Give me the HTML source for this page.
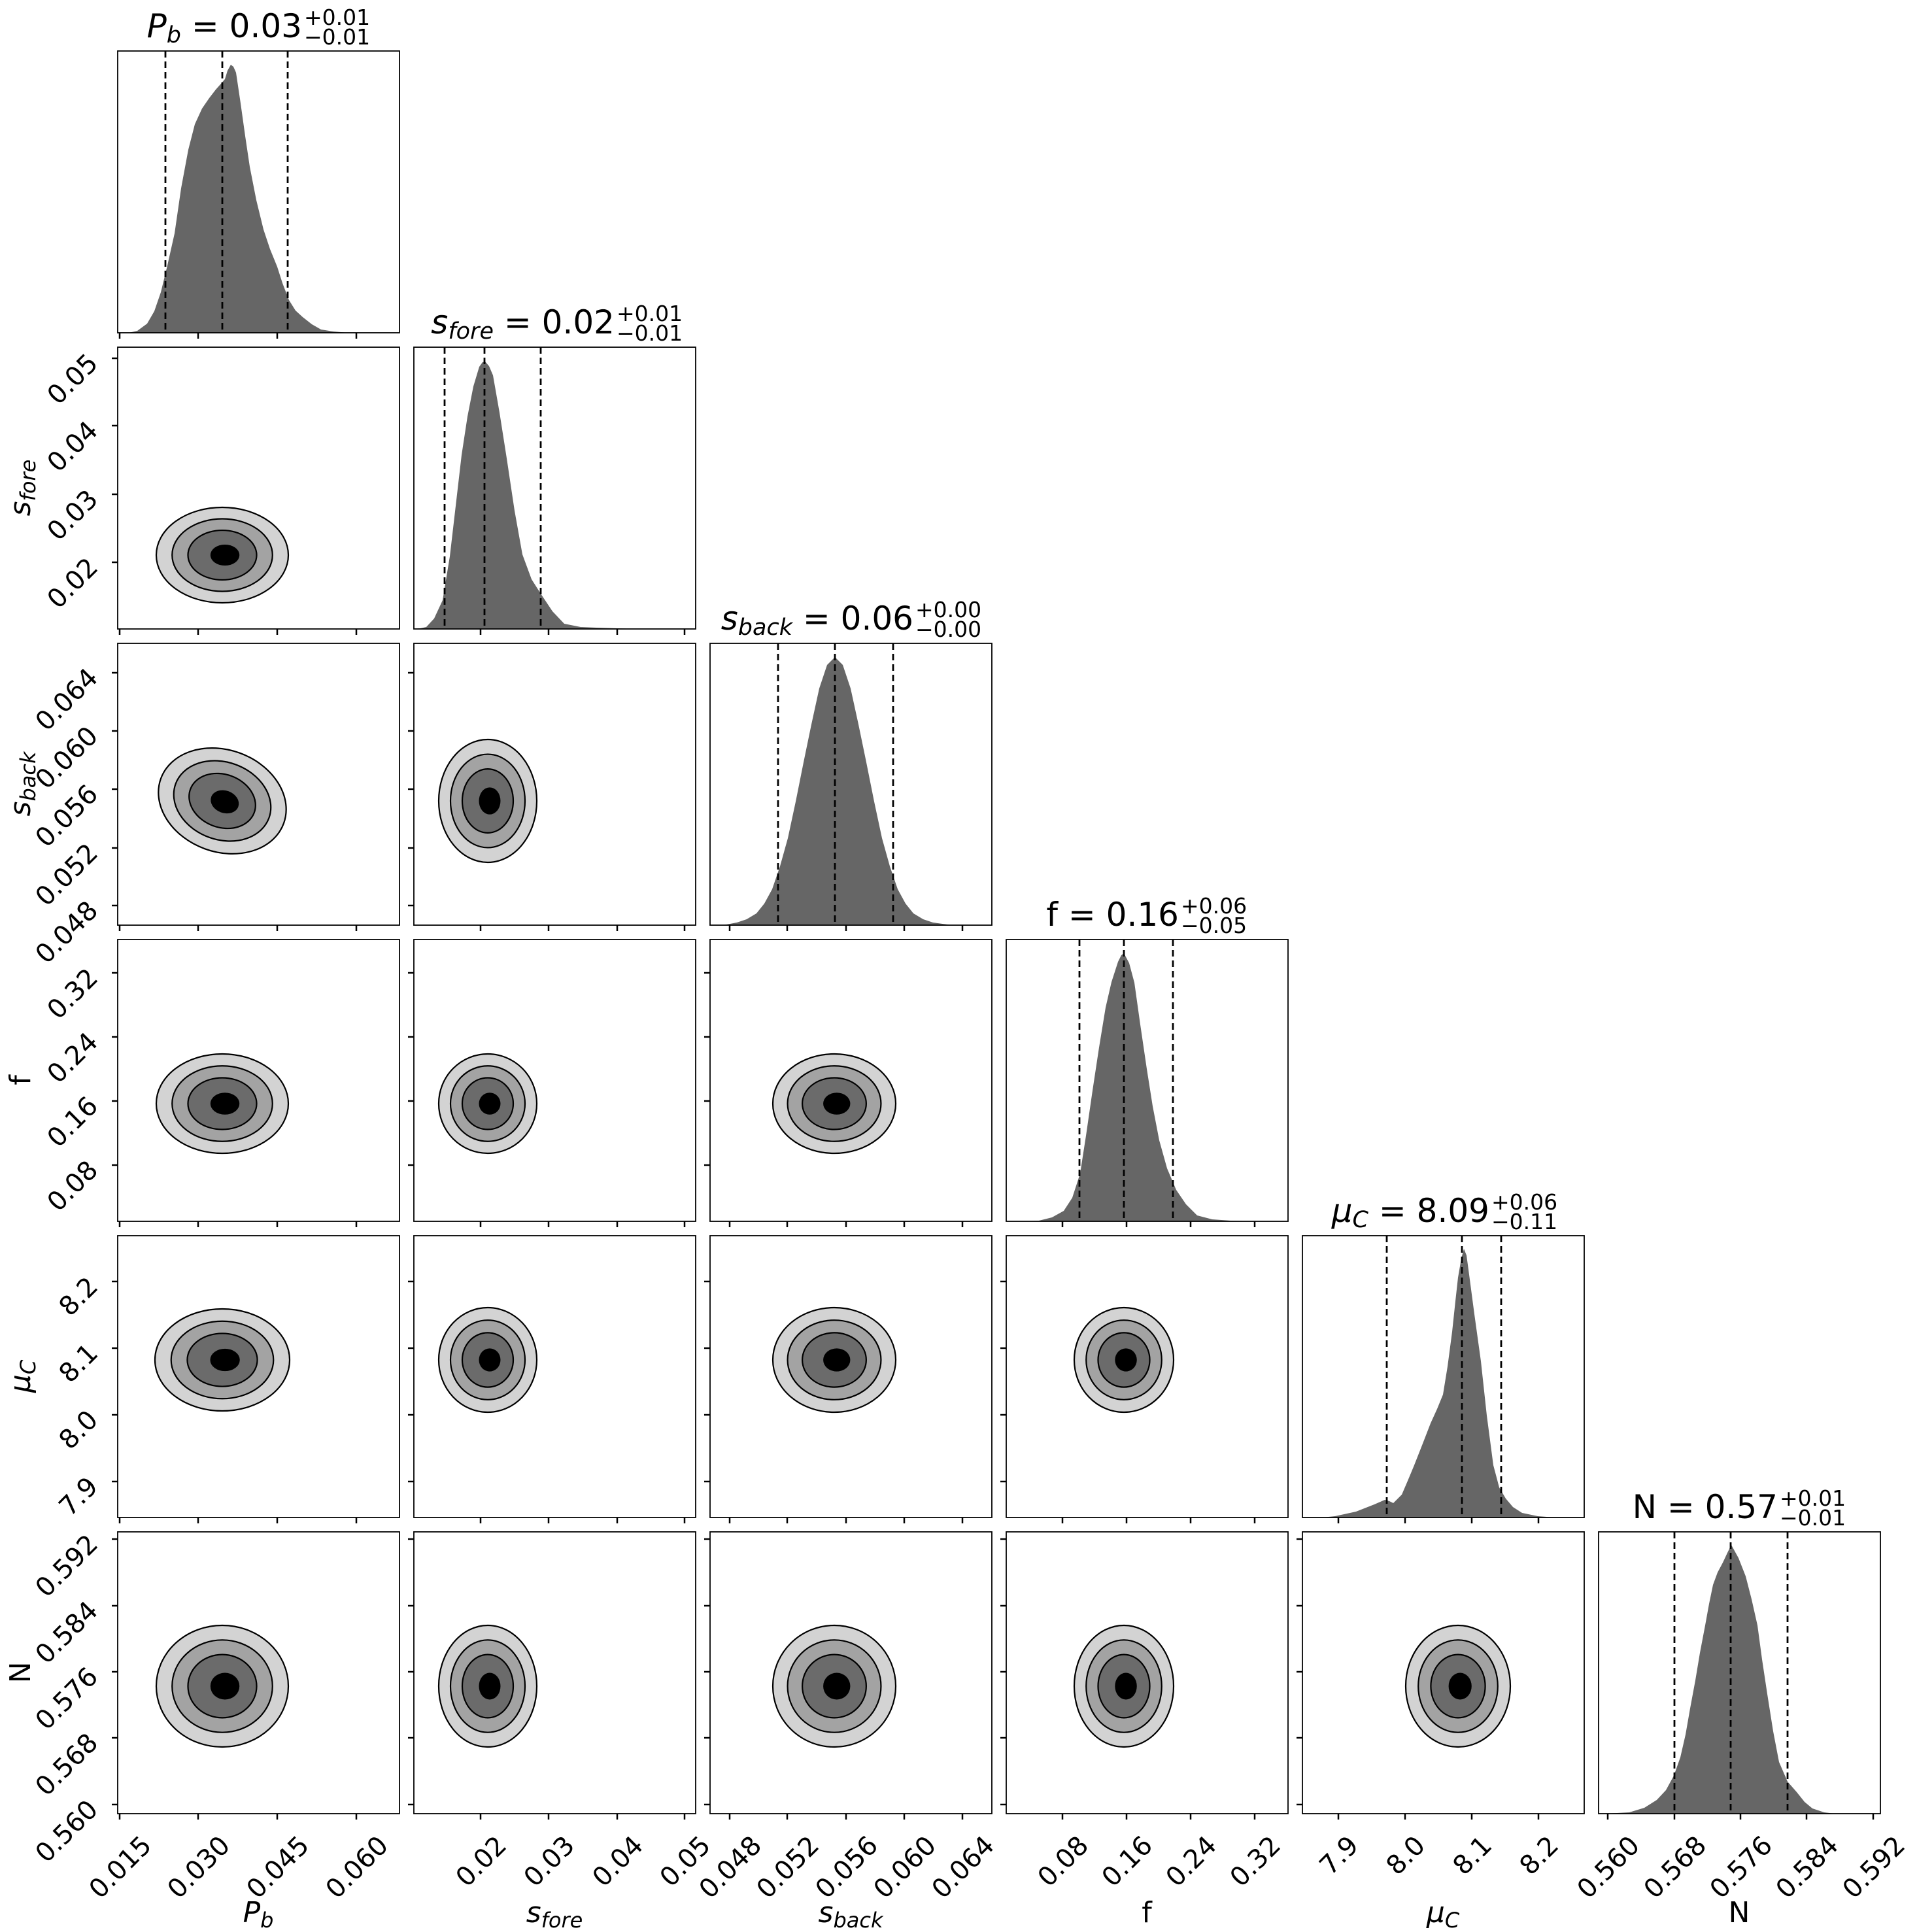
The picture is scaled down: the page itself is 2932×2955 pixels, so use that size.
<!DOCTYPE html>
<html><head><meta charset="utf-8"><style>
html,body{margin:0;padding:0;background:#fff}
svg{display:block}
text{font-family:"DejaVu Sans","Liberation Sans",sans-serif;fill:#000}
</style></head><body>
<svg xmlns="http://www.w3.org/2000/svg" xmlns:xlink="http://www.w3.org/1999/xlink" width="2932" height="2955" viewBox="0 0 2932 2955">
<defs>
<g id="ct">
<circle r="100" fill="#d3d3d3" stroke="#000" stroke-width="2.2" vector-effect="non-scaling-stroke"/>
<circle r="76" fill="#a3a3a3" stroke="#000" stroke-width="2.2" vector-effect="non-scaling-stroke"/>
<circle r="52" fill="#6b6b6b" stroke="#000" stroke-width="2.2" vector-effect="non-scaling-stroke"/>
<circle cx="4" r="22" fill="#000"/>
</g>
<rect id="pb" width="431" height="431" fill="none" stroke="#000" stroke-width="1.8"/>
<g id="xt0" stroke="#000" stroke-width="2.5"><path d="M183 509v9M303 509v9M424 509v9M545 509v9"/></g>
<g id="xt1" stroke="#000" stroke-width="2.5"><path d="M735 962v9M839 962v9M944 962v9M1047 962v9"/></g>
<g id="xt2" stroke="#000" stroke-width="2.5"><path d="M1116 1415v9M1204 1415v9M1294 1415v9M1383 1415v9M1472 1415v9"/></g>
<g id="xt3" stroke="#000" stroke-width="2.5"><path d="M1625 1868v9M1723 1868v9M1821 1868v9M1919 1868v9"/></g>
<g id="xt4" stroke="#000" stroke-width="2.5"><path d="M2047 2321v9M2149 2321v9M2251 2321v9M2353 2321v9"/></g>
<g id="yt1" stroke="#000" stroke-width="2.5"><path d="M171 860h9M171 756h9M171 651h9M171 548h9"/></g>
<g id="yt2" stroke="#000" stroke-width="2.5"><path d="M171 1385h9M171 1297h9M171 1207h9M171 1118h9M171 1029h9"/></g>
<g id="yt3" stroke="#000" stroke-width="2.5"><path d="M171 1782h9M171 1684h9M171 1586h9M171 1488h9"/></g>
<g id="yt4" stroke="#000" stroke-width="2.5"><path d="M171 2266h9M171 2164h9M171 2062h9M171 1960h9"/></g>
<g id="yt5" stroke="#000" stroke-width="2.5"><path d="M171 2760h9M171 2658h9M171 2557h9M171 2456h9M171 2354h9"/></g>
</defs>

<!-- histograms -->
<g transform="translate(180,78)">
<polygon fill="#666" points="0,431 17,431 30,428 45,417 56,398 66,369 76,328 87,279 97,210 108,151 118,112 129,88 140,72 150,59 158,50 164,43 168,30 173,21 177,24 181,33 188,80 195,130 202,177 212,228 223,273 233,303 244,330 252,355 262,381 272,397 283,407 297,418 311,426 330,429 353,431"/>
<g stroke="#000" stroke-width="2.8" stroke-dasharray="10 6"><path d="M73 0V431M160 0V431M260 0V431"/></g>
<use xlink:href="#pb"/></g>
<g transform="translate(633,531)">
<polygon fill="#666" points="0,431 10,430 19,428 31,415 44,387 55,320 65,234 73,165 82,106 91,60 100,30 105,23 109,22 115,29 121,43 131,100 142,170 154,250 166,317 180,355 194,377 212,404 230,423 255,428 279,429 342,431"/>
<g stroke="#000" stroke-width="2.8" stroke-dasharray="10 6"><path d="M47 0V431M108 0V431M194 0V431"/></g>
<use xlink:href="#pb"/></g>
<g transform="translate(1086,984)">
<polygon fill="#666" points="20,431 41,427 56,422 71,413 83,398 95,376 107,341 119,298 131,242 143,182 155,124 167,69 179,33 191,21 203,33 215,69 227,124 239,182 251,242 263,298 275,341 287,376 299,398 311,413 326,422 341,427 370,431"/>
<g stroke="#000" stroke-width="2.8" stroke-dasharray="10 6"><path d="M104 0V431M191 0V431M280 0V431"/></g>
<use xlink:href="#pb"/></g>
<g transform="translate(1539,1437)">
<polygon fill="#666" points="20,431 50,430 70,425 88,415 101,395 113,358 122,300 132,231 142,165 152,104 161,65 171,34 176,24 180,21 188,36 196,66 205,130 215,198 224,255 234,307 246,350 260,383 275,405 292,422 315,428 343,430 380,431"/>
<g stroke="#000" stroke-width="2.8" stroke-dasharray="10 6"><path d="M112 0V431M180 0V431M255 0V431"/></g>
<use xlink:href="#pb"/></g>
<g transform="translate(1992,1890)">
<polygon fill="#666" points="30,431 50,429 82,422 110,411 126,404 133,406 139,409 152,396 161,375 171,351 184,318 196,287 206,265 215,243 222,200 229,147 234,100 238,64 243,35 247,20 251,30 254,52 263,120 273,192 282,275 292,351 301,385 311,402 322,415 336,424 360,429 387,431"/>
<g stroke="#000" stroke-width="2.8" stroke-dasharray="10 6"><path d="M129 0V431M244 0V431M304 0V431"/></g>
<use xlink:href="#pb"/></g>
<g transform="translate(2445,2343)">
<polygon fill="#666" points="10,431 47,429 70,422 89,410 103,395 115,373 125,345 133,310 140,270 148,227 155,185 163,143 169,110 175,81 182,62 190,47 197,32 203,20 214,40 225,68 234,103 243,143 250,195 258,248 267,305 276,352 289,382 303,398 315,413 327,423 345,429 362,431 420,431"/>
<g stroke="#000" stroke-width="2.8" stroke-dasharray="10 6"><path d="M116 0V431M202 0V431M289 0V431"/></g>
<use xlink:href="#pb"/></g>

<!-- contours -->
<use xlink:href="#ct" transform="translate(340,849) scale(1.01,0.73)"/>
<use xlink:href="#ct" transform="translate(340,1225) rotate(20) scale(1.0,0.78)"/>
<use xlink:href="#ct" transform="translate(746,1225) scale(0.75,0.94)"/>
<use xlink:href="#ct" transform="translate(340,1688) scale(1.01,0.76)"/>
<use xlink:href="#ct" transform="translate(746,1688) scale(0.75,0.76)"/>
<use xlink:href="#ct" transform="translate(1276,1688) scale(0.94,0.76)"/>
<use xlink:href="#ct" transform="translate(340,2080) scale(1.03,0.78)"/>
<use xlink:href="#ct" transform="translate(746,2080) scale(0.75,0.80)"/>
<use xlink:href="#ct" transform="translate(1276,2080) scale(0.94,0.80)"/>
<use xlink:href="#ct" transform="translate(1719,2080) scale(0.76,0.80)"/>
<use xlink:href="#ct" transform="translate(340,2579) scale(1.01,0.93)"/>
<use xlink:href="#ct" transform="translate(746,2579) scale(0.75,0.93)"/>
<use xlink:href="#ct" transform="translate(1276,2579) scale(0.94,0.93)"/>
<use xlink:href="#ct" transform="translate(1719,2579) scale(0.76,0.93)"/>
<use xlink:href="#ct" transform="translate(2230,2579) scale(0.80,0.93)"/>

<!-- contour panel frames -->
<use xlink:href="#pb" x="180" y="531"/>
<use xlink:href="#pb" x="180" y="984"/><use xlink:href="#pb" x="633" y="984"/>
<use xlink:href="#pb" x="180" y="1437"/><use xlink:href="#pb" x="633" y="1437"/><use xlink:href="#pb" x="1086" y="1437"/>
<use xlink:href="#pb" x="180" y="1890"/><use xlink:href="#pb" x="633" y="1890"/><use xlink:href="#pb" x="1086" y="1890"/><use xlink:href="#pb" x="1539" y="1890"/>
<use xlink:href="#pb" x="180" y="2343"/><use xlink:href="#pb" x="633" y="2343"/><use xlink:href="#pb" x="1086" y="2343"/><use xlink:href="#pb" x="1539" y="2343"/><use xlink:href="#pb" x="1992" y="2343"/>

<!-- x ticks -->
<use xlink:href="#xt0"/><use xlink:href="#xt0" y="453"/><use xlink:href="#xt0" y="906"/><use xlink:href="#xt0" y="1359"/><use xlink:href="#xt0" y="1812"/><use xlink:href="#xt0" y="2265"/>
<use xlink:href="#xt1"/><use xlink:href="#xt1" y="453"/><use xlink:href="#xt1" y="906"/><use xlink:href="#xt1" y="1359"/><use xlink:href="#xt1" y="1812"/>
<use xlink:href="#xt2"/><use xlink:href="#xt2" y="453"/><use xlink:href="#xt2" y="906"/><use xlink:href="#xt2" y="1359"/>
<use xlink:href="#xt3"/><use xlink:href="#xt3" y="453"/><use xlink:href="#xt3" y="906"/>
<use xlink:href="#xt4"/><use xlink:href="#xt4" y="453"/>
<g stroke="#000" stroke-width="2.5"><path d="M2459 2774v9M2561 2774v9M2662 2774v9M2763 2774v9M2865 2774v9"/></g>
<!-- y ticks -->
<use xlink:href="#yt1"/>
<use xlink:href="#yt2"/><use xlink:href="#yt2" x="453"/>
<use xlink:href="#yt3"/><use xlink:href="#yt3" x="453"/><use xlink:href="#yt3" x="906"/>
<use xlink:href="#yt4"/><use xlink:href="#yt4" x="453"/><use xlink:href="#yt4" x="906"/><use xlink:href="#yt4" x="1359"/>
<use xlink:href="#yt5"/><use xlink:href="#yt5" x="453"/><use xlink:href="#yt5" x="906"/><use xlink:href="#yt5" x="1359"/><use xlink:href="#yt5" x="1812"/>

<!-- bottom tick labels -->
<g font-size="40" text-anchor="end">
<text transform="translate(234,2825) rotate(-45)">0.015</text>
<text transform="translate(354,2825) rotate(-45)">0.030</text>
<text transform="translate(475,2825) rotate(-45)">0.045</text>
<text transform="translate(596,2825) rotate(-45)">0.060</text>
<text transform="translate(777,2825) rotate(-45)">0.02</text>
<text transform="translate(881,2825) rotate(-45)">0.03</text>
<text transform="translate(986,2825) rotate(-45)">0.04</text>
<text transform="translate(1089,2825) rotate(-45)">0.05</text>
<text transform="translate(1167,2825) rotate(-45)">0.048</text>
<text transform="translate(1255,2825) rotate(-45)">0.052</text>
<text transform="translate(1345,2825) rotate(-45)">0.056</text>
<text transform="translate(1434,2825) rotate(-45)">0.060</text>
<text transform="translate(1523,2825) rotate(-45)">0.064</text>
<text transform="translate(1667,2825) rotate(-45)">0.08</text>
<text transform="translate(1765,2825) rotate(-45)">0.16</text>
<text transform="translate(1863,2825) rotate(-45)">0.24</text>
<text transform="translate(1961,2825) rotate(-45)">0.32</text>
<text transform="translate(2080,2825) rotate(-45)">7.9</text>
<text transform="translate(2182,2825) rotate(-45)">8.0</text>
<text transform="translate(2284,2825) rotate(-45)">8.1</text>
<text transform="translate(2386,2825) rotate(-45)">8.2</text>
<text transform="translate(2510,2825) rotate(-45)">0.560</text>
<text transform="translate(2612,2825) rotate(-45)">0.568</text>
<text transform="translate(2713,2825) rotate(-45)">0.576</text>
<text transform="translate(2814,2825) rotate(-45)">0.584</text>
<text transform="translate(2916,2825) rotate(-45)">0.592</text>
<!-- left tick labels -->
<text transform="translate(152,870) rotate(-45)">0.02</text>
<text transform="translate(152,766) rotate(-45)">0.03</text>
<text transform="translate(152,661) rotate(-45)">0.04</text>
<text transform="translate(152,558) rotate(-45)">0.05</text>
<text transform="translate(152,1395) rotate(-45)">0.048</text>
<text transform="translate(152,1307) rotate(-45)">0.052</text>
<text transform="translate(152,1217) rotate(-45)">0.056</text>
<text transform="translate(152,1128) rotate(-45)">0.060</text>
<text transform="translate(152,1039) rotate(-45)">0.064</text>
<text transform="translate(152,1792) rotate(-45)">0.08</text>
<text transform="translate(152,1694) rotate(-45)">0.16</text>
<text transform="translate(152,1596) rotate(-45)">0.24</text>
<text transform="translate(152,1498) rotate(-45)">0.32</text>
<text transform="translate(152,2276) rotate(-45)">7.9</text>
<text transform="translate(152,2174) rotate(-45)">8.0</text>
<text transform="translate(152,2072) rotate(-45)">8.1</text>
<text transform="translate(152,1970) rotate(-45)">8.2</text>
<text transform="translate(152,2770) rotate(-45)">0.560</text>
<text transform="translate(152,2668) rotate(-45)">0.568</text>
<text transform="translate(152,2567) rotate(-45)">0.576</text>
<text transform="translate(152,2466) rotate(-45)">0.584</text>
<text transform="translate(152,2364) rotate(-45)">0.592</text>
</g>

<!-- axis labels bottom -->
<g font-size="44" text-anchor="middle">
<text x="395" y="2940"><tspan font-style="italic">P</tspan><tspan font-style="italic" font-size="32" dy="8">b</tspan></text>
<text x="848" y="2940"><tspan font-style="italic">s</tspan><tspan font-style="italic" font-size="32" dy="8">fore</tspan></text>
<text x="1301" y="2940"><tspan font-style="italic">s</tspan><tspan font-style="italic" font-size="32" dy="8">back</tspan></text>
<text x="1754" y="2940">f</text>
<text x="2207" y="2940"><tspan font-style="italic">μ</tspan><tspan font-style="italic" font-size="32" dy="8">C</tspan></text>
<text x="2660" y="2940">N</text>
</g>
<!-- axis labels left -->
<g font-size="44" text-anchor="middle">
<text transform="translate(46,746) rotate(-90)"><tspan font-style="italic">s</tspan><tspan font-style="italic" font-size="32" dy="8">fore</tspan></text>
<text transform="translate(46,1199) rotate(-90)"><tspan font-style="italic">s</tspan><tspan font-style="italic" font-size="32" dy="8">back</tspan></text>
<text transform="translate(46,1652) rotate(-90)">f</text>
<text transform="translate(46,2105) rotate(-90)"><tspan font-style="italic">μ</tspan><tspan font-style="italic" font-size="32" dy="8">C</tspan></text>
<text transform="translate(46,2558) rotate(-90)">N</text>
</g>

<!-- titles -->
<g font-size="50">
<text x="462" y="57" text-anchor="end"><tspan font-style="italic">P</tspan><tspan font-style="italic" font-size="35" dy="8">b</tspan><tspan dy="-8"> = 0.03</tspan></text>
<text x="465" y="38" font-size="33">+0.01</text><text x="465" y="68" font-size="33">−0.01</text>

<text x="940" y="510" text-anchor="end"><tspan font-style="italic">s</tspan><tspan font-style="italic" font-size="35" dy="8">fore</tspan><tspan dy="-8"> = 0.02</tspan></text>
<text x="943" y="491" font-size="33">+0.01</text><text x="943" y="521" font-size="33">−0.01</text>

<text x="1397" y="963" text-anchor="end"><tspan font-style="italic">s</tspan><tspan font-style="italic" font-size="35" dy="8">back</tspan><tspan dy="-8"> = 0.06</tspan></text>
<text x="1400" y="944" font-size="33">+0.00</text><text x="1400" y="974" font-size="33">−0.00</text>

<text x="1803" y="1416" text-anchor="end">f = 0.16</text>
<text x="1806" y="1397" font-size="33">+0.06</text><text x="1806" y="1427" font-size="33">−0.05</text>

<text x="2278" y="1869" text-anchor="end"><tspan font-style="italic">μ</tspan><tspan font-style="italic" font-size="35" dy="8">C</tspan><tspan dy="-8"> = 8.09</tspan></text>
<text x="2281" y="1850" font-size="33">+0.06</text><text x="2281" y="1880" font-size="33">−0.11</text>

<text x="2719" y="2322" text-anchor="end">N = 0.57</text>
<text x="2722" y="2303" font-size="33">+0.01</text><text x="2722" y="2333" font-size="33">−0.01</text>
</g>
</svg>
</body></html>
